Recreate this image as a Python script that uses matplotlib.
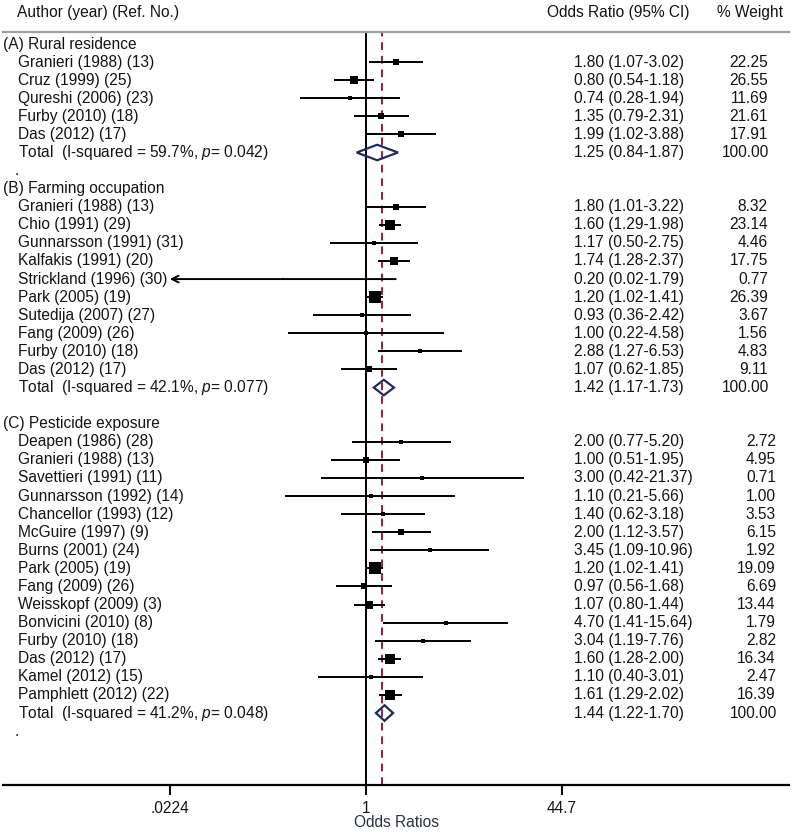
import numpy as np
import matplotlib
matplotlib.use('Agg')
import matplotlib.pyplot as plt
from matplotlib.transforms import blended_transform_factory

plt.rcParams['font.family'] = ['Liberation Sans', 'DejaVu Sans']
plt.rcParams['mathtext.fontset'] = 'custom'
plt.rcParams['mathtext.rm'] = 'Liberation Sans'
plt.rcParams['mathtext.it'] = 'Liberation Sans:italic'

# ---- data ----
groups = ['(A) Rural residence', '(B) Farming occupation', '(C) Pesticide exposure']

labels_a = ['Granieri (1988) (13)', 'Cruz (1999) (25)', 'Qureshi (2006) (23)',
            'Furby (2010) (18)', 'Das (2012) (17)']
or_a = [1.80, 0.80, 0.74, 1.35, 1.99]
lo_a = [1.07, 0.54, 0.28, 0.79, 1.02]
hi_a = [3.02, 1.18, 1.94, 2.31, 3.88]
wt_a = [22.25, 26.55, 11.69, 21.61, 17.91]

labels_b = ['Granieri (1988) (13)', 'Chio (1991) (29)', 'Gunnarsson (1991) (31)',
            'Kalfakis (1991) (20)', 'Strickland (1996) (30)', 'Park (2005) (19)',
            'Sutedija (2007) (27)', 'Fang (2009) (26)', 'Furby (2010) (18)',
            'Das (2012) (17)']
or_b = [1.80, 1.60, 1.17, 1.74, 0.20, 1.20, 0.93, 1.00, 2.88, 1.07]
lo_b = [1.01, 1.29, 0.50, 1.28, 0.02, 1.02, 0.36, 0.22, 1.27, 0.62]
hi_b = [3.22, 1.98, 2.75, 2.37, 1.79, 1.41, 2.42, 4.58, 6.53, 1.85]
wt_b = [8.32, 23.14, 4.46, 17.75, 0.77, 26.39, 3.67, 1.56, 4.83, 9.11]

labels_c = ['Deapen (1986) (28)', 'Granieri (1988) (13)', 'Savettieri (1991) (11)',
            'Gunnarsson (1992) (14)', 'Chancellor (1993) (12)', 'McGuire (1997) (9)',
            'Burns (2001) (24)', 'Park (2005) (19)', 'Fang (2009) (26)',
            'Weisskopf (2009) (3)', 'Bonvicini (2010) (8)', 'Furby (2010) (18)',
            'Das (2012) (17)', 'Kamel (2012) (15)', 'Pamphlett (2012) (22)']
or_c = [2.00, 1.00, 3.00, 1.10, 1.40, 2.00, 3.45, 1.20, 0.97, 1.07, 4.70, 3.04, 1.60, 1.10, 1.61]
lo_c = [0.77, 0.51, 0.42, 0.21, 0.62, 1.12, 1.09, 1.02, 0.56, 0.80, 1.41, 1.19, 1.28, 0.40, 1.29]
hi_c = [5.20, 1.95, 21.37, 5.66, 3.18, 3.57, 10.96, 1.41, 1.68, 1.44, 15.64, 7.76, 2.00, 3.01, 2.02]
wt_c = [2.72, 4.95, 0.71, 1.00, 3.53, 6.15, 1.92, 19.09, 6.69, 13.44, 1.79, 2.82, 16.34, 2.47, 16.39]

tot_or = [1.25, 1.42, 1.44]
tot_lo = [0.84, 1.17, 1.22]
tot_hi = [1.87, 1.73, 1.70]
i2 = [59.7, 42.1, 41.2]
pval = [0.042, 0.077, 0.048]

overall = 1.37
tick_vals = [0.0224, 1, 44.7]
tick_labels = ['.0224', '1', '44.7']

# ---- figure ----
W, H = 792, 832
fig = plt.figure(figsize=(W / 100, H / 100), dpi=100)
ax = fig.add_axes([3 / W, (H - 785) / H, 786 / W, (785 - 32) / H])
ax.set_xscale('log')
ppd = 118.77  # pixels per decade
ax.set_xlim(10 ** ((3 - 365.7) / ppd), 10 ** ((789 - 365.7) / ppd))
ax.set_ylim(40.98, -0.664)

tr = blended_transform_factory(fig.transFigure, ax.transData)
txt = '#141414'
fs = 11.2

ax.axvline(1, color='black', lw=1.4, zorder=1)
ax.axvline(overall, color='#8B2335', lw=1.4, ls=(0, (4, 3)), zorder=1)

fig.text(17 / W, 1 - 13 / H, 'Author (year) (Ref. No.)', fontsize=fs, color=txt, va='center')
fig.text(547 / W, 1 - 13 / H, 'Odds Ratio (95% CI)', fontsize=fs, color=txt, va='center')
fig.text(717 / W, 1 - 13 / H, '% Weight', fontsize=fs, color=txt, va='center')

sections = [(labels_a, or_a, lo_a, hi_a, wt_a),
            (labels_b, or_b, lo_b, hi_b, wt_b),
            (labels_c, or_c, lo_c, hi_c, wt_c)]
wx = [768, 768, 776]
xmin, xmax = tick_vals[0], tick_vals[-1]

row = 0
for g, (labs, est, lo, hi, wt) in enumerate(sections):
    ax.text(3 / W, row, groups[g], transform=tr, fontsize=fs, color=txt, va='center')
    row += 1
    for i in range(len(labs)):
        y = row
        ax.text(18 / W, y, labs[i], transform=tr, fontsize=fs, color=txt, va='center')
        ax.text(574 / W, y, f'{est[i]:.2f} ({lo[i]:.2f}-{hi[i]:.2f})', transform=tr,
                fontsize=fs, color=txt, va='center')
        ax.text(wx[g] / W, y, f'{wt[i]:.2f}', transform=tr, fontsize=fs, color=txt,
                va='center', ha='right')
        l = max(lo[i], xmin)
        h = min(hi[i], xmax)
        if lo[i] < xmin:
            ax.annotate('', xy=(l, y), xytext=(h, y),
                        arrowprops=dict(arrowstyle='->', color='black', lw=1.4,
                                        mutation_scale=12, shrinkA=0, shrinkB=0))
        else:
            ax.plot([l, h], [y, y], color='black', lw=1.4, solid_capstyle='butt')
        se = np.log(hi[i] / lo[i]) / 3.92
        side = 3.2 * np.sqrt(1 / se) * 0.72
        ax.plot(est[i], y, marker='s', color='black', ms=side, mew=0)
        row += 1
    y = row
    ax.text(18 / W, y, f'Total  (I-squared = {i2[g]}%, $p$= {pval[g]:.3f})', transform=tr,
            fontsize=fs, color=txt, va='center')
    ax.text(574 / W, y, f'{tot_or[g]:.2f} ({tot_lo[g]:.2f}-{tot_hi[g]:.2f})', transform=tr,
            fontsize=fs, color=txt, va='center')
    ax.text((wx[g] + 1) / W, y, '100.00', transform=tr, fontsize=fs, color=txt,
            va='center', ha='right')
    dh = 0.43
    ax.fill([tot_lo[g], tot_or[g], tot_hi[g], tot_or[g]], [y, y - dh, y, y + dh],
            fill=False, edgecolor='#1F2B5E', lw=1.6, zorder=3)
    row += 1
    if g != 1:
        ax.text(15 / W, row, '.', transform=tr, fontsize=fs, color=txt, va='center')
    row += 1

for s in ['left', 'right']:
    ax.spines[s].set_visible(False)
ax.spines['top'].set_color('#a0a0a0')
ax.spines['top'].set_linewidth(1.6)
ax.spines['bottom'].set_linewidth(1.6)
ax.set_yticks([])
ax.set_xticks(tick_vals)
ax.set_xticklabels(tick_labels)
ax.minorticks_off()
ax.tick_params(axis='x', length=7.5, width=1.4, pad=4, labelsize=fs, labelcolor=txt)
ax.set_xlabel('Odds Ratios', fontsize=fs, color='#2a3242', labelpad=-1)

fig.savefig('out.png', dpi=100)
